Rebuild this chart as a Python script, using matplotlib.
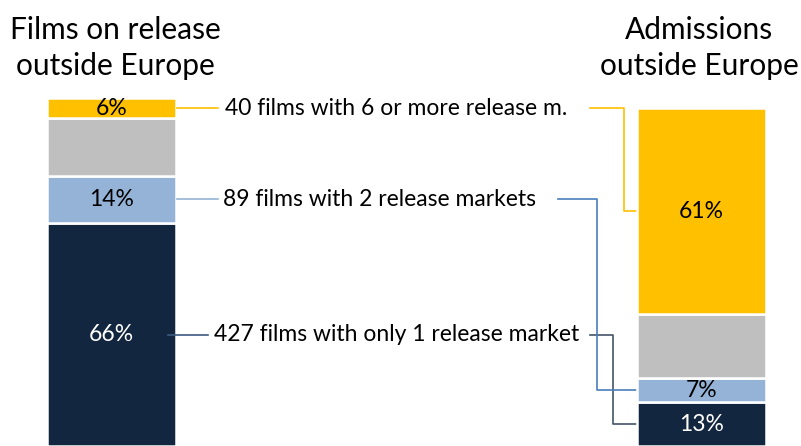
import matplotlib
matplotlib.use('Agg')
import matplotlib.pyplot as plt

plt.rcParams['font.family'] = ['Lato', 'DejaVu Sans']

# Share of films (left) and admissions (right), stacked bottom to top
segments = ['1 market', '2 markets', '3-5 markets', '6+ markets']
films_share = [66, 14, 17, 6]
admissions_share = [13, 7, 19, 61]
shown = [True, True, False, True]

colors = ['#12263f', '#95b3d7', '#bfbfbf', '#ffc000']
label_colors = ['white', 'black', None, 'black']

titles = ['Films on release\noutside Europe', 'Admissions\noutside Europe']
notes = ['427 films with only 1 release market',
         '89 films with 2 release markets',
         None,
         '40 films with 6 or more release m.']
line_colors = [('#3d5a80', '#44546a'), ('#95b3d7', '#4a7ebb'), None, ('#ffc000', '#ffc000')]

W, H = 801, 446
fig = plt.figure(figsize=(W / 100, H / 100), dpi=100)
ax = fig.add_axes([0, 0, 1, 1])

# pixel-ish helpers so the layout can be tuned by eye
span = 590.0
x0 = 111.5
def px(x):
	return (x - x0) / span

ax.set_xlim(px(0), px(W))
ax.set_ylim(0, 132)
ax.axis('off')

bar_w = 129 / span
positions = [0, 1]
fs = 16.5

for pos, values in zip(positions, [films_share, admissions_share]):
	bottom = 0
	for i, v in enumerate(values):
		ax.bar(pos, v, width=bar_w, bottom=bottom, color=colors[i],
			edgecolor='white', linewidth=1.8, zorder=2)
		if shown[i]:
			ax.text(pos, bottom + v / 2, '%d%%' % v, ha='center', va='center',
				fontsize=fs, color=label_colors[i], zorder=3)
		bottom += v

def centers(values):
	out = []
	b = 0
	for v in values:
		out.append(b + v / 2)
		b += v
	return out

lc = centers(films_share)
rc = centers(admissions_share)

# left stubs, text, and elbow connectors to the right bar
left_start = {0: 168, 1: 177, 3: 177}
left_end = {0: 208, 1: 218, 3: 218}
text_x = {0: 214, 1: 223, 3: 225}
right_start = {0: 590, 1: 558, 3: 590}
elbow_x = {0: 613, 1: 597, 3: 624}
bar_edge = 637

for i in [0, 1, 3]:
	y = lc[i]
	c_left, c_right = line_colors[i]
	ax.plot([px(left_start[i]), px(left_end[i])], [y, y], color=c_left, lw=1.2, zorder=4)
	ax.text(px(text_x[i]), y, notes[i], ha='left', va='center', fontsize=fs, color='black')
	ax.plot([px(right_start[i]), px(elbow_x[i]), px(elbow_x[i]), px(bar_edge)],
		[y, y, rc[i], rc[i]], color=c_right, lw=1.2, zorder=1)

ax.text(px(115), 132 - 48 / 3.38, titles[0], ha='center', va='center', fontsize=21.5, linespacing=1.34)
ax.text(px(699), 132 - 48 / 3.38, titles[1], ha='center', va='center', fontsize=21.5, linespacing=1.34)

fig.savefig('out.png', dpi=100)
